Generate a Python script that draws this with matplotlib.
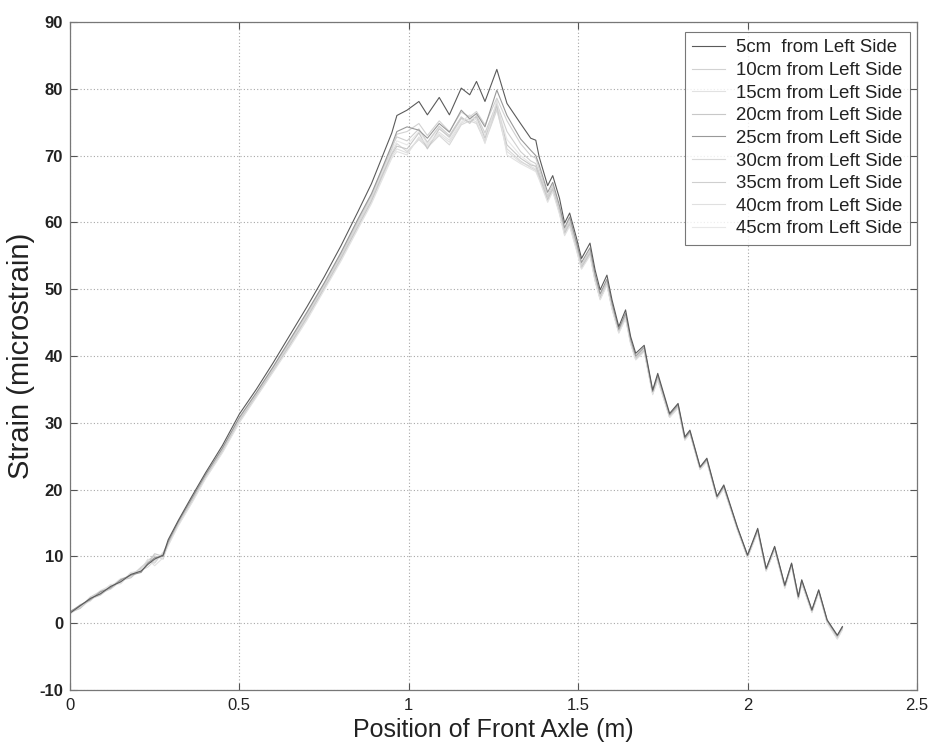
import matplotlib
matplotlib.use('Agg')
import matplotlib.pyplot as plt
from matplotlib.ticker import FixedLocator

# axle position (m) shared by every gauge trace
pos = [0.00, 0.03, 0.06, 0.09, 0.12, 0.15, 0.18, 0.21, 0.23, 0.25, 0.275, 0.29, 0.32, 0.36,
       0.40, 0.45, 0.50, 0.55, 0.60, 0.65, 0.70, 0.75, 0.80, 0.85, 0.89, 0.92, 0.95, 0.965,
       0.995, 1.03, 1.055, 1.09, 1.12, 1.155, 1.18, 1.20, 1.225, 1.26, 1.29, 1.33, 1.36, 1.375,
       1.385, 1.41, 1.425, 1.445, 1.46, 1.475, 1.495, 1.51, 1.535, 1.55, 1.565, 1.585, 1.60, 1.62,
       1.64, 1.655, 1.67, 1.695, 1.72, 1.735, 1.77, 1.795, 1.815, 1.83, 1.86, 1.88, 1.91, 1.93,
       1.97, 2.00, 2.03, 2.055, 2.08, 2.11, 2.13, 2.15, 2.16, 2.19, 2.21, 2.235, 2.265, 2.28]

# strain readings (microstrain) for each gauge
s05 = [1.5, 2.6, 3.7, 4.4, 5.5, 6.2, 7.3, 7.8, 8.8, 9.6, 10.2, 12.5, 15.4, 19.0,
       22.5, 26.6, 31.3, 35.0, 39.0, 43.2, 47.4, 51.8, 56.5, 61.6, 65.8, 69.6, 73.4, 76.0,
       76.8, 78.1, 76.1, 78.7, 76.1, 80.1, 79.1, 81.1, 78.1, 82.9, 77.8, 74.8, 72.6, 72.3,
       69.8, 65.5, 67.0, 63.6, 59.9, 61.4, 57.7, 54.6, 56.9, 52.9, 49.9, 52.1, 48.4, 44.4,
       46.9, 42.9, 40.4, 41.6, 34.9, 37.4, 31.4, 32.9, 27.9, 28.9, 23.4, 24.7, 19.0, 20.7,
       14.4, 10.2, 14.2, 8.2, 11.5, 5.7, 9.0, 4.0, 6.5, 2.0, 5.0, 0.5, -1.8, -0.5]
s10 = [1.8, 2.4, 3.9, 4.8, 5.2, 6.6, 7.0, 8.4, 9.2, 9.0, 10.6, 12.0, 15.0, 18.4,
       22.0, 25.9, 30.6, 34.3, 38.2, 42.2, 46.3, 50.6, 55.1, 60.1, 64.0, 67.6, 71.0, 73.2,
       73.6, 74.8, 73.0, 75.2, 73.6, 76.5, 75.8, 76.6, 74.6, 78.6, 75.2, 71.8, 70.0, 69.6,
       68.0, 64.0, 65.6, 62.0, 58.8, 60.4, 56.6, 53.6, 55.8, 51.8, 49.0, 51.2, 47.6, 43.8,
       46.2, 42.2, 39.8, 41.0, 34.6, 36.8, 31.0, 32.6, 27.6, 28.6, 23.2, 24.4, 18.8, 20.4,
       14.2, 10.0, 13.9, 8.0, 11.2, 5.5, 8.8, 3.8, 6.2, 1.8, 4.8, 0.3, -2.0, -0.7]
s15 = [1.4, 2.8, 3.4, 4.6, 5.8, 5.9, 7.5, 8.0, 9.6, 8.6, 9.8, 11.6, 14.6, 18.0,
       21.6, 25.5, 30.0, 33.8, 37.6, 41.4, 45.4, 49.8, 54.2, 59.0, 62.8, 66.2, 69.6, 70.6,
       70.1, 72.8, 71.6, 73.5, 72.3, 75.0, 76.1, 75.3, 71.8, 78.3, 70.1, 68.8, 68.0, 67.6,
       66.4, 63.0, 64.6, 61.2, 58.0, 59.4, 55.8, 53.0, 55.0, 51.2, 48.4, 50.6, 47.0, 43.4,
       45.6, 41.8, 39.4, 40.6, 34.2, 36.4, 30.8, 32.2, 27.4, 28.4, 23.0, 24.2, 18.6, 20.2,
       14.0, 9.8, 13.6, 7.8, 11.0, 5.2, 8.6, 3.6, 6.0, 1.6, 4.6, 0.0, -2.4, -1.0]
s20 = [1.6, 2.2, 3.6, 4.2, 5.4, 6.4, 6.8, 8.2, 9.0, 10.4, 10.0, 11.8, 14.8, 18.2,
       21.8, 25.7, 30.2, 34.0, 37.8, 41.7, 45.8, 50.1, 54.6, 59.4, 63.2, 66.8, 70.2, 71.4,
       71.0, 73.4, 71.0, 74.0, 72.8, 75.6, 75.0, 75.8, 72.6, 77.4, 71.6, 69.6, 68.6, 68.4,
       67.0, 63.4, 65.0, 61.6, 58.4, 59.8, 56.2, 53.2, 55.4, 51.4, 48.6, 50.8, 47.2, 43.6,
       45.8, 42.0, 39.6, 40.8, 34.4, 36.6, 30.9, 32.4, 27.5, 28.5, 23.1, 24.3, 18.7, 20.3,
       14.1, 9.9, 13.8, 7.9, 11.1, 5.4, 8.7, 3.7, 6.1, 1.7, 4.7, 0.2, -2.2, -0.8]
s25 = [1.7, 2.7, 3.5, 4.7, 5.3, 6.5, 7.2, 7.6, 9.0, 9.8, 10.0, 12.2, 15.2, 18.7,
       22.2, 26.2, 30.8, 34.5, 38.4, 42.5, 46.6, 50.9, 55.5, 60.5, 64.3, 67.9, 71.6, 73.6,
       74.3, 73.8, 72.6, 74.8, 73.5, 76.8, 75.5, 76.3, 74.3, 79.8, 76.0, 72.5, 70.8, 70.0,
       68.6, 64.5, 66.0, 62.5, 59.2, 60.8, 57.0, 54.0, 56.2, 52.2, 49.3, 51.5, 47.9, 44.0,
       46.4, 42.5, 40.0, 41.3, 34.7, 37.1, 31.2, 32.7, 27.7, 28.7, 23.3, 24.5, 18.9, 20.5,
       14.3, 10.1, 14.0, 8.1, 11.4, 5.6, 8.9, 3.9, 6.4, 1.9, 4.9, 0.4, -1.9, -0.6]
s30 = [1.5, 2.5, 3.8, 4.3, 5.7, 6.0, 7.4, 7.9, 8.4, 9.4, 10.4, 11.9, 14.9, 18.3,
       21.9, 25.8, 30.4, 34.1, 38.0, 41.9, 46.0, 50.3, 54.8, 59.7, 63.5, 67.0, 70.4, 71.8,
       70.6, 72.4, 71.2, 73.0, 71.6, 74.6, 75.2, 74.8, 72.0, 76.8, 71.0, 69.2, 68.2, 67.8,
       66.6, 63.2, 64.8, 61.4, 58.2, 59.6, 56.0, 53.1, 55.2, 51.3, 48.5, 50.7, 47.1, 43.5,
       45.7, 41.9, 39.5, 40.7, 34.3, 36.5, 30.8, 32.3, 27.4, 28.4, 23.0, 24.2, 18.6, 20.2,
       14.0, 9.8, 13.7, 7.8, 11.0, 5.3, 8.6, 3.6, 6.0, 1.6, 4.6, 0.1, -2.3, -0.9]
s35 = [1.6, 2.3, 3.9, 4.5, 5.1, 6.3, 7.1, 8.1, 9.4, 10.1, 9.6, 12.1, 15.1, 18.5,
       22.1, 26.1, 30.6, 34.4, 38.3, 42.3, 46.5, 50.8, 55.3, 60.3, 64.1, 67.8, 71.4, 72.8,
       72.2, 74.0, 72.0, 74.4, 73.0, 75.8, 74.8, 76.0, 73.4, 77.8, 73.6, 70.6, 69.2, 68.8,
       67.4, 63.8, 65.2, 61.8, 58.6, 60.0, 56.4, 53.4, 55.6, 51.6, 48.8, 51.0, 47.4, 43.7,
       46.0, 42.1, 39.7, 40.9, 34.5, 36.7, 31.0, 32.5, 27.6, 28.6, 23.2, 24.4, 18.8, 20.4,
       14.2, 10.0, 13.9, 8.0, 11.2, 5.5, 8.8, 3.8, 6.3, 1.8, 4.8, 0.3, -2.1, -0.6]
s40 = [1.3, 2.6, 3.3, 4.9, 5.6, 6.1, 7.6, 7.7, 8.9, 9.9, 10.1, 11.7, 14.7, 18.1,
       21.7, 25.6, 30.1, 33.9, 37.7, 41.6, 45.6, 50.0, 54.4, 59.2, 63.0, 66.5, 69.9, 71.0,
       70.4, 72.6, 71.4, 73.2, 72.0, 74.8, 75.6, 75.0, 72.2, 77.0, 70.6, 69.0, 68.4, 68.0,
       66.8, 63.3, 64.9, 61.5, 58.3, 59.7, 56.1, 53.2, 55.3, 51.4, 48.6, 50.8, 47.2, 43.6,
       45.8, 42.0, 39.5, 40.8, 34.4, 36.5, 30.9, 32.4, 27.5, 28.5, 23.1, 24.3, 18.7, 20.3,
       14.1, 9.9, 13.8, 7.9, 11.1, 5.4, 8.7, 3.7, 6.1, 1.7, 4.7, 0.2, -2.2, -0.8]
s45 = [1.7, 2.4, 3.6, 4.4, 5.5, 6.7, 6.9, 8.3, 9.1, 9.3, 10.5, 12.0, 15.0, 18.4,
       22.0, 26.0, 30.5, 34.2, 38.1, 42.1, 46.2, 50.5, 55.0, 59.9, 63.7, 67.2, 70.8, 72.2,
       71.6, 73.6, 71.8, 74.2, 72.6, 75.4, 75.4, 75.6, 73.0, 77.6, 72.4, 70.0, 68.8, 68.4,
       67.2, 63.6, 65.1, 61.7, 58.5, 59.9, 56.3, 53.3, 55.5, 51.5, 48.7, 50.9, 47.3, 43.7,
       45.9, 42.1, 39.6, 40.9, 34.5, 36.6, 31.0, 32.4, 27.6, 28.6, 23.2, 24.4, 18.8, 20.4,
       14.2, 10.0, 13.9, 8.0, 11.2, 5.5, 8.8, 3.8, 6.2, 1.8, 4.8, 0.3, -2.1, -0.7]

labels = ['5cm  from Left Side', '10cm from Left Side', '15cm from Left Side',
          '20cm from Left Side', '25cm from Left Side', '30cm from Left Side',
          '35cm from Left Side', '40cm from Left Side', '45cm from Left Side']
series = [s05, s10, s15, s20, s25, s30, s35, s40, s45]
colors = ['#5a5a5a', '#d2d2d2', '#e2e2e2', '#c8c8c8', '#999999',
          '#d8d8d8', '#cfcfcf', '#e0e0e0', '#e8e8e8']

xticks = [0, 0.5, 1, 1.5, 2, 2.5]
xticklabels = ['0', '0.5', '1', '1.5', '2', '2.5']
yticks = list(range(-10, 91, 10))

plt.rcParams['font.family'] = ['Liberation Sans', 'DejaVu Sans']
plt.rcParams['axes.unicode_minus'] = False

fig = plt.figure(figsize=(9.29, 7.5), dpi=100)
ax = fig.add_axes([0.0753, 0.08, 0.9117, 0.8907])

# lighter traces first so the dark one stays on top
order = [8, 7, 6, 5, 3, 2, 1, 4, 0]
handles = {}
for i in order:
    ln, = ax.plot(pos, series[i], color=colors[i], lw=0.8, label=labels[i])
    handles[i] = ln

ax.set_xlim(0, 2.5)
ax.set_ylim(-10, 90)
ax.xaxis.set_major_locator(FixedLocator(xticks))
ax.set_xticklabels(xticklabels, fontsize=12, color='#222222')
ax.yaxis.set_major_locator(FixedLocator(yticks))
for t in ax.get_yticklabels():
    t.set_fontsize(12)
    t.set_color('#222222')
    t.set_fontweight('bold')

ax.grid(True, linestyle=(0, (1, 2)), color='#a8a8a8', lw=0.8)
ax.tick_params(direction='in', top=True, right=True, length=5, width=0.8, colors='#555555',
               labelcolor='#222222')
ax.tick_params(axis='x', pad=6)
ax.tick_params(axis='y', pad=5)
for sp in ax.spines.values():
    sp.set_color('#777777')
    sp.set_linewidth(0.9)

ax.set_xlabel('Position of Front Axle (m)', fontsize=18, color='#222222', labelpad=3)
ax.set_ylabel('Strain (microstrain)', fontsize=21, color='#222222', labelpad=3)

leg = ax.legend([handles[i] for i in range(9)], labels, loc='upper right',
                bbox_to_anchor=(0.9917, 0.985), borderaxespad=0, fontsize=13.4,
                frameon=True, fancybox=False, handlelength=1.75, handletextpad=0.6,
                labelspacing=0.3, borderpad=0.4)
leg.get_frame().set_edgecolor('#555555')
leg.get_frame().set_linewidth(0.8)
for t in leg.get_texts():
    t.set_color('#222222')

fig.savefig('out.png', dpi=100)
